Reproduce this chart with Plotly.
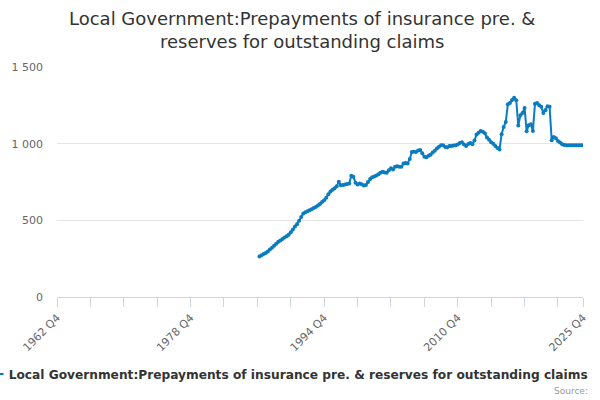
import plotly.graph_objects as go

# Quarterly categories 1962 Q4 .. 2025 Q4
categories = []
y, q = 1962, 4
while (y, q) <= (2025, 4):
    categories.append(f"{y} Q{q}")
    q += 1
    if q > 4:
        q = 1
        y += 1

# Values start at 1987 Q1 (earlier quarters have no data)
first_period = "1987 Q1"
values = [
    264, 272, 280, 287, 296, 309, 321, 334, 347, 360,
    369, 378, 388, 397, 406, 422, 441, 459, 474, 498,
    522, 545, 553, 560, 566, 573, 580, 587, 596, 607,
    619, 631, 648, 670, 688, 699, 710, 722, 752, 728,
    731, 734, 737, 741, 790, 784, 745, 733, 741, 736,
    727, 731, 750, 770, 781, 786, 793, 800, 810, 817,
    812, 810, 826, 840, 832, 850, 852, 849, 850, 870,
    874, 871, 900, 945, 947, 946, 955, 958, 938, 915,
    912, 922, 928, 943, 953, 968, 980, 990, 990, 978,
    976, 984, 985, 988, 990, 994, 1005, 1010, 994, 985,
    998, 1005, 997, 1020, 1060, 1072, 1083, 1078, 1068, 1040,
    1025, 1010, 1000, 985, 972, 962, 1062, 1109, 1142, 1257,
    1265, 1285, 1300, 1283, 1118, 1185, 1200, 1233, 1081, 1120,
    1127, 1083, 1261, 1266, 1250, 1240, 1200, 1218, 1244, 1240,
    1023, 1044, 1035, 1018, 1008, 997, 992, 990, 990, 990,
    990, 990, 990, 990, 990, 990,
]

start = categories.index(first_period)
series = [None] * start + values
series = series + [None] * (len(categories) - len(series))

tick_labels = ["1962 Q4", "1978 Q4", "1994 Q4", "2010 Q4", "2025 Q4"]
y_ticks = [0, 500, 1000, 1500]
title_lines = ["Local Government:Prepayments of insurance pre. &",
               "reserves for outstanding claims"]
name = "Local Government:Prepayments of insurance pre. & reserves for outstanding claims"

tickvals = [categories[i] for i in range(0, len(categories), 16)]
if categories[-1] not in tickvals:
    tickvals.append(categories[-1])
ticktext = [c if c in tick_labels else "" for c in tickvals]

color = "#0a7cc1"

fig = go.Figure()
fig.add_trace(go.Scatter(
    x=categories, y=series, name=name, mode="lines+markers",
    line=dict(color=color, width=2), marker=dict(color=color, size=4),
    connectgaps=False,
))

title_font = dict(family="DejaVu Sans", size=18, color="#333333")
fig.update_layout(
    width=600, height=400,
    paper_bgcolor="white", plot_bgcolor="white",
    margin=dict(l=57, r=17, t=67, b=103, autoexpand=False),
    separators=". ",
    font=dict(family="DejaVu Sans", color="#666666", size=11),
    showlegend=True,
    legend=dict(
        orientation="h", x=-0.168, xanchor="left", y=-0.272, yanchor="top",
        font=dict(family="DejaVu Sans", size=12.2, color="#333333", weight="bold"),
        itemwidth=30,
    ),
    annotations=[
        dict(text=title_lines[0], xref="paper", yref="paper", x=0.4655, y=1.2087,
             xanchor="center", yanchor="middle", showarrow=False, font=title_font),
        dict(text=title_lines[1], xref="paper", yref="paper", x=0.4655, y=1.113,
             xanchor="center", yanchor="middle", showarrow=False, font=title_font),
        dict(text="Source:", xref="paper", yref="paper", x=1.0133, y=-0.4087,
             xanchor="right", yanchor="middle", showarrow=False,
             font=dict(family="DejaVu Sans", size=9, color="#999999")),
    ],
)

fig.update_xaxes(
    type="category", range=[0, len(categories) - 1],
    tickmode="array", tickvals=tickvals, ticktext=ticktext,
    tickangle=-45, ticks="outside", ticklen=9, tickcolor="#ccd6eb",
    showline=True, linecolor="#ccd6eb", linewidth=1,
    showgrid=False, zeroline=False,
    tickfont=dict(size=11, color="#666666"),
)
fig.update_yaxes(
    range=[0, 1500], tickmode="array", tickvals=y_ticks, tickformat=",d",
    showgrid=True, gridcolor="#e6e6e6", zeroline=False, showline=False,
    tickfont=dict(size=11, color="#666666"), ticks="", ticklabelstandoff=13,
)

fig.write_html("out.html", config={"displayModeBar": False},
               post_script="document.body.style.margin='0';")
